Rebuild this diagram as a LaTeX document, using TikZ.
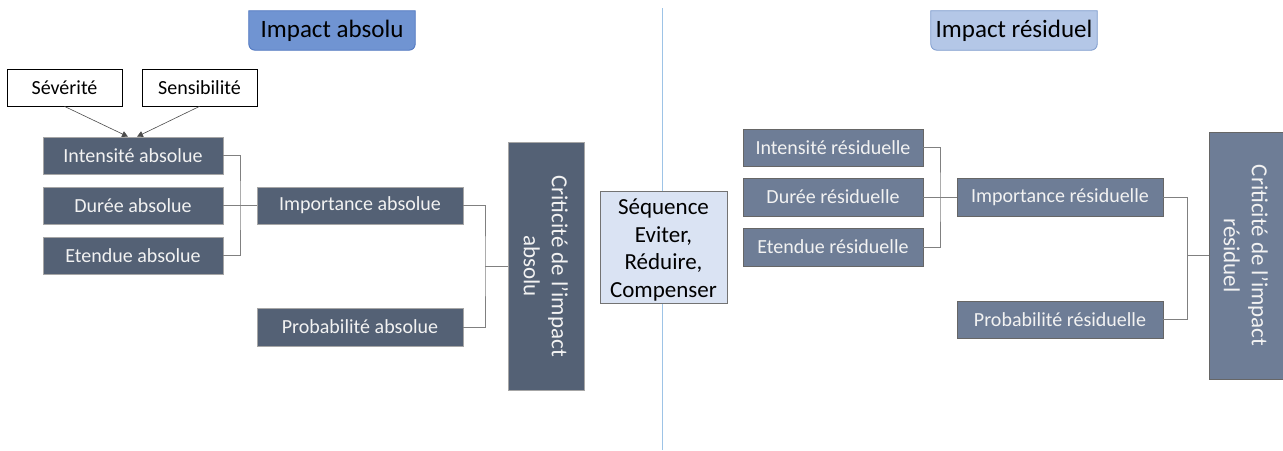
\documentclass[tikz,border=0pt]{standalone}
\usepackage{fontspec}
\setmainfont{Carlito}
\usetikzlibrary{arrows.meta}
\definecolor{darkbox}{HTML}{546175}
\definecolor{lightbox}{HTML}{6E7D96}
\definecolor{titleA}{HTML}{7094D2}
\definecolor{titleAb}{HTML}{4A72BE}
\definecolor{titleR}{HTML}{B4C7E7}
\definecolor{titleRb}{HTML}{7A98CC}
\definecolor{seqfill}{HTML}{DAE3F3}
\definecolor{sepline}{HTML}{9DC3E6}
\definecolor{conncol}{HTML}{808080}
\begin{document}
\begin{tikzpicture}[x=1pt,y=-1pt,
  boxtxt/.style={font=\fontsize{20}{24}\selectfont, text=white!95!black},
  dbox/.style={boxtxt, fill=darkbox, draw=gray!70, line width=0.7pt, inner sep=0pt, minimum height=37pt},
  lbox/.style={boxtxt, fill=lightbox, draw=gray!80!black, line width=0.7pt, inner sep=0pt, minimum height=37pt},
  wbox/.style={font=\fontsize{20}{24}\selectfont, fill=white, draw=black, line width=0.8pt, inner sep=0pt, minimum width=115pt, minimum height=37pt},
  critbox/.style={font=\fontsize{23}{28}\selectfont, text=white!95!black, align=center, inner sep=0pt, rotate=-90, line width=0.7pt},
  titletxt/.style={font=\fontsize{25}{30}\selectfont, inner sep=0pt, minimum width=166pt, minimum height=39pt},
  conn/.style={draw=conncol, line width=0.9pt},
  arr/.style={draw=black!70, line width=0.6pt, -{Triangle[length=6pt,width=6pt]}}
]
\useasboundingbox (0,0) rectangle (1283,450);
\fill[white] (0,0) rectangle (1283,450);

% separator
\coordinate (sepT) at (662,8);
\coordinate (sepB) at (662,450);
\draw[sepline, line width=1pt] (sepT) -- (sepB);

% titles (square top corners, rounded bottom corners)
\node[titletxt] (tA) at (332,30.5) {};
\node[titletxt] (tR) at (1014,30.5) {};
\filldraw[fill=titleA, draw=titleAb, line width=0.8pt] (tA.north west) -- (tA.north east) [rounded corners=6pt] -- (tA.south east) -- (tA.south west) [sharp corners] -- cycle;
\filldraw[fill=titleR, draw=titleRb, line width=0.8pt] (tR.north west) -- (tR.north east) [rounded corners=6pt] -- (tR.south east) -- (tR.south west) [sharp corners] -- cycle;
\node[titletxt] (tAtext) at (tA.center) {Impact absolu};
\node[titletxt] (tRtext) at (tR.center) {Impact résiduel};

% left side
\node[wbox] (sev) at (64.5,87.5) {Sévérité};
\node[wbox] (sen) at (199.5,87.5) {Sensibilité};
\node[dbox, minimum width=180pt] (intA) at (133,155.5) {Intensité absolue};
\node[dbox, minimum width=180pt] (durA) at (133,205.5) {Durée absolue};
\node[dbox, minimum width=180pt] (etA) at (133,255.5) {Etendue absolue};
\node[dbox, minimum width=206pt] (impA) at (360,205.5) {Importance absolue};
\node[dbox, minimum width=206pt, minimum height=38pt] (probA) at (360,327) {Probabilité absolue};
\node[critbox, fill=darkbox, draw=gray!70, minimum width=248pt, minimum height=76pt] (critA) at (546,266) {Criticité de l’impact\\absolu};

\draw[arr] (sev.south) -- ([xshift=-5pt]intA.north);
\draw[arr] (sen.south) -- ([xshift=4pt]intA.north);

\coordinate (bA) at (240,205.5);
\draw[conn] (intA.east) -| (bA) |- (etA.east);
\draw[conn] (durA.east) -- (impA.west);
\coordinate (cA) at (485,266);
\draw[conn] (impA.east) -| (cA) |- (probA.east);
\draw[conn] (cA) -- (critA.south);

% middle
\node[font=\fontsize{23}{27.6}\selectfont, fill=seqfill, draw=gray!90!black, line width=0.8pt, inner sep=0pt, minimum width=127pt, minimum height=112pt] (seq) at (663.5,247) {\parbox{120pt}{\centering\vspace*{6pt}Séquence\\Eviter,\\Réduire,\\Compenser}};

% right side
\node[lbox, minimum width=180pt] (intR) at (833,147.5) {Intensité résiduelle};
\node[lbox, minimum width=180pt, minimum height=38pt] (durR) at (833,197) {Durée résiduelle};
\node[lbox, minimum width=180pt, minimum height=38pt] (etR) at (833,247) {Etendue résiduelle};
\node[lbox, minimum width=206pt, minimum height=38pt] (impR) at (1060,197) {Importance résiduelle};
\node[lbox, minimum width=206pt] (probR) at (1060,319.5) {Probabilité résiduelle};
\node[critbox, fill=lightbox, draw=gray!80!black, minimum width=247pt, minimum height=74pt] (critR) at (1246,255.5) {Criticité de l’impact\\résiduel};

\coordinate (bR) at (940,197);
\draw[conn] (intR.east) -| (bR) |- (etR.east);
\draw[conn] (durR.east) -- (impR.west);
\coordinate (cR) at (1187,255.5);
\draw[conn] (impR.east) -| (cR) |- (probR.east);
\draw[conn] (cR) -- (critR.south);
\end{tikzpicture}
\end{document}
